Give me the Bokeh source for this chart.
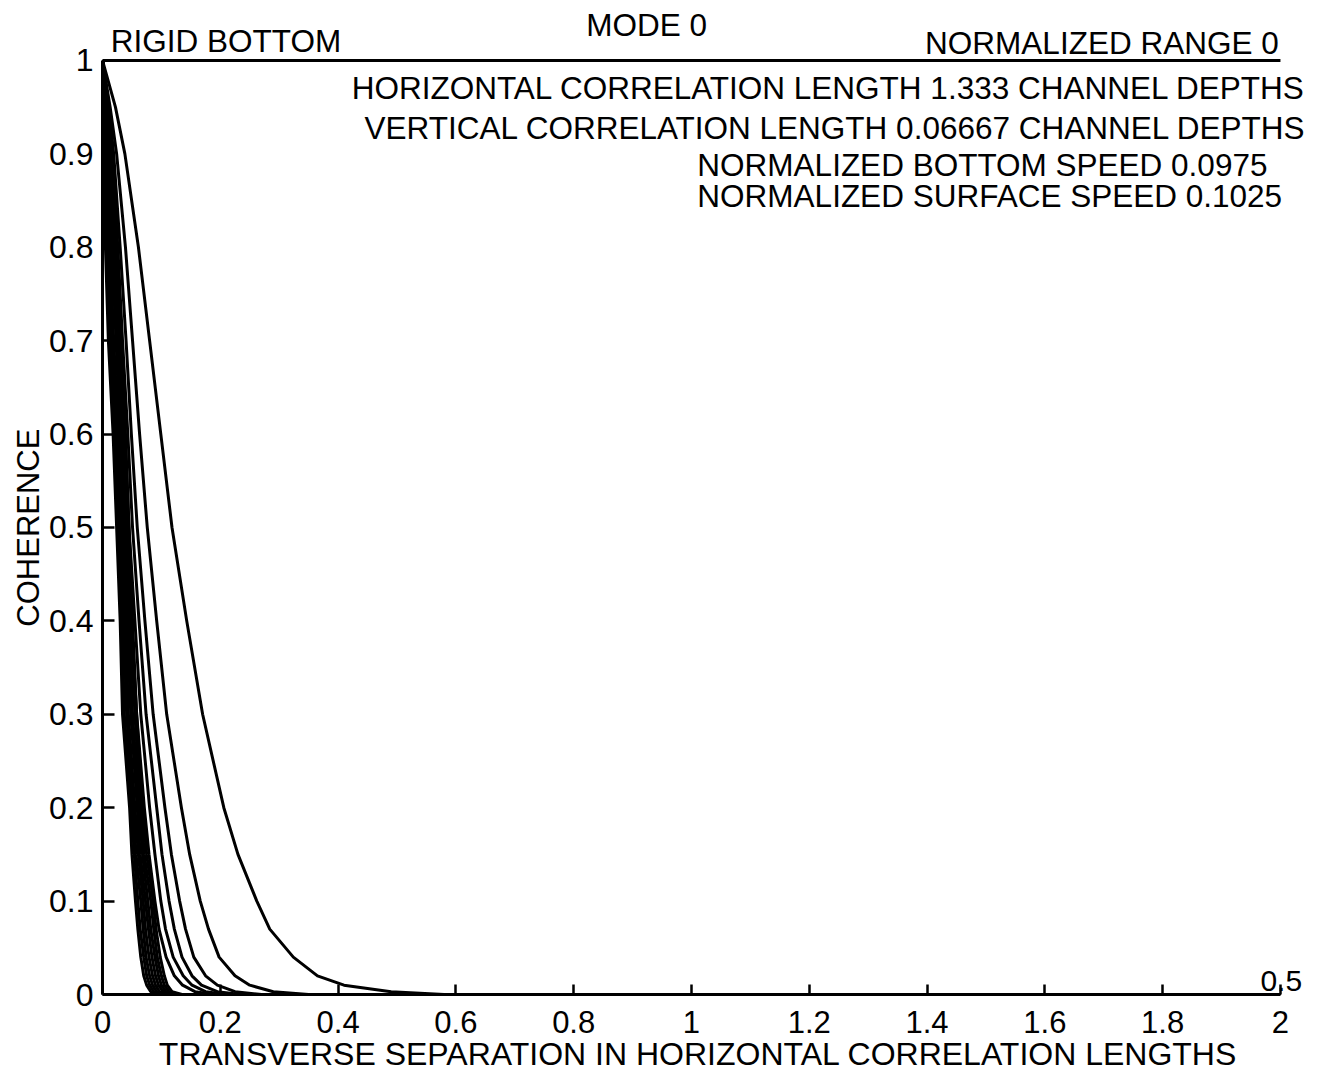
from bokeh.plotting import figure
from bokeh.models import Range1d, FixedTicker, Label, BoxAnnotation
from bokeh.embed import file_html
from bokeh.resources import INLINE

# ---------------- data ----------------
coherence_levels = [1.0, 0.95, 0.9, 0.8, 0.7, 0.6, 0.5, 0.4, 0.3, 0.2, 0.15, 0.1,
                    0.07, 0.04, 0.02, 0.01, 0.003, 0.0]

# transverse separation (horizontal correlation lengths) at each coherence level
sep_a = [0, 0.022, 0.038, 0.061, 0.080, 0.099, 0.118, 0.143, 0.170, 0.206, 0.230, 0.262,
         0.284, 0.324, 0.365, 0.410, 0.490, 0.580]
sep_b = [0, 0.013, 0.024, 0.039, 0.051, 0.063, 0.076, 0.092, 0.109, 0.134, 0.148, 0.166,
         0.180, 0.198, 0.225, 0.250, 0.290, 0.350]
sep_c = [0, 0.011, 0.019, 0.030, 0.040, 0.049, 0.059, 0.072, 0.086, 0.106, 0.117, 0.131,
         0.141, 0.155, 0.175, 0.195, 0.225, 0.270]
sep_d = [0, 0.009, 0.016, 0.026, 0.034, 0.043, 0.051, 0.062, 0.074, 0.092, 0.101, 0.113,
         0.122, 0.135, 0.152, 0.168, 0.195, 0.235]
sep_e = [0, 0.008, 0.014, 0.023, 0.030, 0.038, 0.045, 0.055, 0.065, 0.080, 0.089, 0.099,
         0.107, 0.120, 0.137, 0.152, 0.175, 0.210]
sep_f = [0, 0.007, 0.013, 0.021, 0.027, 0.034, 0.040, 0.049, 0.058, 0.071, 0.079, 0.089,
         0.096, 0.108, 0.122, 0.136, 0.157, 0.190]
# dense band of curves
sep_b1 = [0, 0.002, 0.003, 0.005, 0.010, 0.018, 0.024, 0.030, 0.034, 0.046, 0.050, 0.056,
          0.060, 0.065, 0.070, 0.075, 0.082, 0.095]
sep_b2 = [0, 0.003, 0.005, 0.008, 0.013, 0.021, 0.027, 0.033, 0.037, 0.049, 0.054, 0.060,
          0.064, 0.070, 0.075, 0.080, 0.087, 0.101]
sep_b3 = [0, 0.004, 0.007, 0.010, 0.016, 0.024, 0.030, 0.036, 0.041, 0.052, 0.057, 0.065,
          0.069, 0.074, 0.080, 0.085, 0.092, 0.106]
sep_b4 = [0, 0.005, 0.009, 0.013, 0.019, 0.027, 0.033, 0.039, 0.044, 0.055, 0.061, 0.069,
          0.073, 0.079, 0.085, 0.090, 0.097, 0.112]
sep_b5 = [0, 0.007, 0.011, 0.016, 0.023, 0.030, 0.036, 0.042, 0.048, 0.059, 0.064, 0.073,
          0.078, 0.084, 0.090, 0.095, 0.103, 0.118]
sep_b6 = [0, 0.008, 0.013, 0.019, 0.026, 0.033, 0.039, 0.045, 0.051, 0.062, 0.068, 0.077,
          0.082, 0.089, 0.095, 0.100, 0.108, 0.124]
sep_b7 = [0, 0.009, 0.015, 0.021, 0.029, 0.036, 0.042, 0.048, 0.055, 0.065, 0.071, 0.082,
          0.087, 0.093, 0.100, 0.105, 0.113, 0.129]
sep_b8 = [0, 0.010, 0.017, 0.024, 0.032, 0.039, 0.045, 0.051, 0.058, 0.068, 0.075, 0.086,
          0.091, 0.098, 0.105, 0.110, 0.118, 0.135]
tail_end_sep = 2.0

x_ticks = [0, 0.2, 0.4, 0.6, 0.8, 1, 1.2, 1.4, 1.6, 1.8, 2]
x_tick_labels = ["0", "0.2", "0.4", "0.6", "0.8", "1", "1.2", "1.4", "1.6", "1.8", "2"]
y_ticks = [0, 0.1, 0.2, 0.3, 0.4, 0.5, 0.6, 0.7, 0.8, 0.9, 1]
y_tick_labels = ["0", "0.1", "0.2", "0.3", "0.4", "0.5", "0.6", "0.7", "0.8", "0.9", "1"]

x_title = "TRANSVERSE SEPARATION IN HORIZONTAL CORRELATION LENGTHS"
y_title = "COHERENCE"
title_text = "MODE 0"
left_note = "RIGID BOTTOM"
right_note = "NORMALIZED RANGE 0"
info_lines = ["HORIZONTAL CORRELATION LENGTH 1.333 CHANNEL DEPTHS",
              "VERTICAL CORRELATION LENGTH 0.06667 CHANNEL DEPTHS",
              "NORMALIZED BOTTOM SPEED 0.0975",
              "NORMALIZED SURFACE SPEED 0.1025"]

FONT = "Liberation Sans"
NBSP = "\u00a0"

x_lo, x_hi = x_ticks[0], x_ticks[-1]
y_lo, y_hi = y_ticks[0], y_ticks[-1]

# frame extends past the axes so the header texts can sit inside it
p = figure(width=1320, height=1080, output_backend="svg", toolbar_location=None,
           x_range=Range1d(x_lo, 2.068), y_range=Range1d(y_lo, 1.0642),
           min_border_left=102, min_border_right=0, min_border_top=0, min_border_bottom=86,
           x_axis_label=x_title + NBSP * 3,
           y_axis_label=y_title + NBSP * 7)
p.outline_line_color = None
p.grid.visible = False
p.background_fill_color = "white"
p.border_fill_color = "white"

curves = [sep_a, sep_b, sep_c, sep_d, sep_e, sep_f,
          sep_b1, sep_b2, sep_b3, sep_b4, sep_b5, sep_b6, sep_b7, sep_b8]
for sep in curves:
    p.line(list(sep) + [tail_end_sep], list(coherence_levels) + [coherence_levels[-1]],
           line_color="black", line_width=3, line_join="round")

for ax in (p.xaxis[0], p.yaxis[0]):
    ax.axis_line_width = 3
    ax.axis_line_color = "black"
    ax.major_tick_line_width = 2.5
    ax.major_tick_line_color = "black"
    ax.major_tick_out = 0
    ax.minor_tick_line_color = None
    ax.major_label_text_font = FONT
    ax.major_label_text_color = "black"
    ax.axis_label_text_font = FONT
    ax.axis_label_text_font_style = "normal"
    ax.axis_label_text_color = "black"

p.xaxis[0].bounds = (x_lo, x_hi)
p.xaxis[0].ticker = FixedTicker(ticks=x_ticks)
p.xaxis[0].major_label_overrides = dict(zip(x_ticks, x_tick_labels))
p.xaxis[0].major_label_text_font_size = "31px"
p.xaxis[0].axis_label_text_font_size = "32px"
p.xaxis[0].major_tick_in = 10
p.xaxis[0].major_label_standoff = 16
p.xaxis[0].axis_label_standoff = 0

p.yaxis[0].bounds = (y_lo, y_hi)
p.yaxis[0].ticker = FixedTicker(ticks=y_ticks)
p.yaxis[0].major_label_overrides = dict(zip(y_ticks, y_tick_labels))
p.yaxis[0].major_label_text_font_size = "32px"
p.yaxis[0].axis_label_text_font_size = "31px"
p.yaxis[0].major_tick_in = 12
p.yaxis[0].major_label_standoff = 9
p.yaxis[0].axis_label_standoff = 0

# top border line of the plot box (no right border in the original)
p.add_layout(BoxAnnotation(left=x_lo, right=x_hi, bottom=y_hi, top=y_hi,
                           fill_color=None, fill_alpha=0, line_color="black",
                           line_alpha=1.0, line_width=3))

def add_label(txt, x, y, align, size="31.5px"):
    p.add_layout(Label(x=x, y=y, text=txt, text_align=align, text_baseline="alphabetic",
                       text_font=FONT, text_font_size=size, text_color="black"))

add_label(title_text, 0.924, 1.0378, "center")
add_label(left_note, 0.014, 1.0208, "left")
add_label(right_note, 1.997, 1.0182, "right")
add_label(info_lines[0], 0.423, 0.9703, "left")
add_label(info_lines[1], 0.445, 0.9275, "left")
add_label(info_lines[2], 1.010, 0.8876, "left")
add_label(info_lines[3], 1.010, 0.8544, "left")
# stray mark on the original sheet
add_label("0.5", 1.966, 0.0145, "left", "30px")

open("out.html", "w").write(file_html(p, INLINE))
